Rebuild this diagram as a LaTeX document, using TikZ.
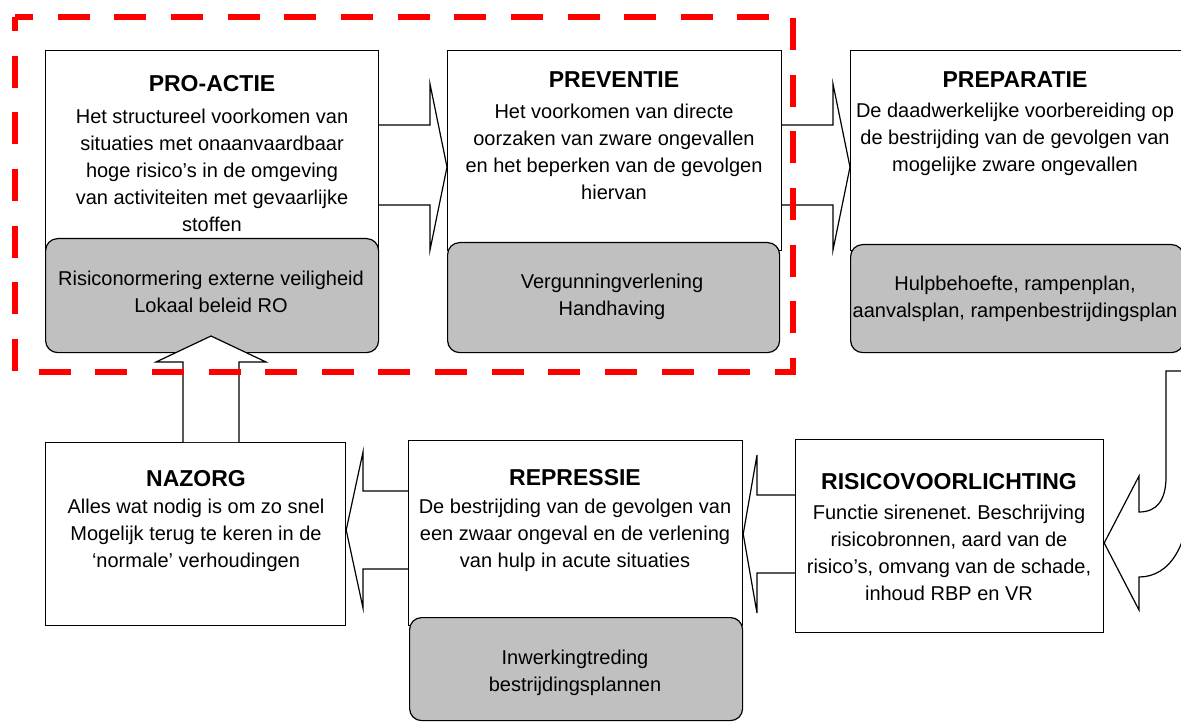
\documentclass[tikz,border=0pt]{standalone}
\usepackage{fontspec}
\setmainfont{Liberation Sans}
\usetikzlibrary{backgrounds}
\frenchspacing

\begin{document}
\begin{tikzpicture}[x=1pt,y=-1pt]

		\definecolor{kaderrood}{RGB}{255,0,0}
		\definecolor{vakgrijs}{RGB}{192,192,192}

		\tikzstyle{pijl} = [draw=black, fill=white, line width=1.2pt, line join=miter]
		\tikzset{fase/.style = {shape=rectangle, draw, fill=white, line width=1.2pt, inner sep=0pt, anchor=north west}}
		\tikzset{maatregel/.style = {shape=rectangle, draw, fill=vakgrijs, rounded corners=12pt, line width=1.2pt, inner sep=0pt, anchor=north west}}
		\tikzset{titel/.style = {font=\fontsize{23}{27}\selectfont\bfseries, inner sep=0pt}}
		\tikzset{tekst/.style = {font=\fontsize{20}{27}\selectfont, align=center, inner sep=0pt}}

		\useasboundingbox (0,0) rectangle (1181,722);
		\clip (0,0) rectangle (1181,722);

		% bovenste rij
		\node[fase, minimum width=333pt, minimum height=200pt] (proactie) at (45,50) {};
		\node[fase, minimum width=334pt, minimum height=200pt] (preventie) at (447,50) {};
		\node[fase, minimum width=333pt, minimum height=200pt] (preparatie) at (850,50) {};

		\node[maatregel, minimum width=333pt, minimum height=114pt] (proactieinfo) at (45,238) {};
		\node[maatregel, minimum width=332pt, minimum height=110pt] (preventieinfo) at (447,242) {};
		\node[maatregel, minimum width=333pt, minimum height=108pt] (preparatieinfo) at (850,244) {};

		% onderste rij
		\node[fase, minimum width=300pt, minimum height=183pt] (nazorg) at (45,442) {};
		\node[fase, minimum width=334pt, minimum height=185pt] (repressie) at (408,440) {};
		\node[fase, minimum width=308pt, minimum height=193pt] (risico) at (795,439) {};

		\node[maatregel, minimum width=333pt, minimum height=103pt] (repressieinfo) at (409,617) {};

		% teksten
		\node[titel] (proactietitel) at (212,84) {PRO-ACTIE};
		\node[tekst] (proactietekst) at (212,170) {Het structureel voorkomen van\\situaties met onaanvaardbaar\\hoge risico’s in de omgeving\\van activiteiten met gevaarlijke\\stoffen};
		\node[tekst] (proactieinfotekst) at (211,292) {Risiconormering externe veiligheid\\Lokaal beleid RO};

		\node[titel] (preventietitel) at (614,80) {PREVENTIE};
		\node[tekst] (preventietekst) at (614,152) {Het voorkomen van directe\\oorzaken van zware ongevallen\\en het beperken van de gevolgen\\hiervan};
		\node[tekst] (preventieinfotekst) at (612,297) {Vergunningverlening\\Handhaving};

		\node[titel] (preparatietitel) at (1015,80) {PREPARATIE};
		\node[tekst] (preparatietekst) at (1015,139) {De daadwerkelijke voorbereiding op\\de bestrijding van de gevolgen van\\mogelijke zware ongevallen};
		\node[tekst] (preparatieinfotekst) at (1015,299) {Hulpbehoefte, rampenplan,\\aanvalsplan, rampenbestrijdingsplan};

		\node[titel] (nazorgtitel) at (196,479) {NAZORG};
		\node[tekst] (nazorgtekst) at (196,535) {Alles wat nodig is om zo snel\\Mogelijk terug te keren in de\\‘normale’ verhoudingen};

		\node[titel] (repressietitel) at (575,478) {REPRESSIE};
		\node[tekst] (repressietekst) at (575,535) {De bestrijding van de gevolgen van\\een zwaar ongeval en de verlening\\van hulp in acute situaties};
		\node[tekst] (repressieinfotekst) at (575,673) {Inwerkingtreding\\bestrijdingsplannen};

		\node[titel] (risicotitel) at (949,482) {RISICOVOORLICHTING};
		\node[tekst] (risicotekst) at (949,553) {Functie sirenenet. Beschrijving\\risicobronnen, aard van de\\risico’s, omvang van de schade,\\inhoud RBP en VR};

		% pijlen tussen de fasen
		\begin{scope}[on background layer]
		\clip (0,0) rectangle (1181,722);
		\draw[pijl] (proactie.east |- 0,125) -- (430,125) -- (430,84) -- (preventie.west |- 0,167) -- (430,250) -- (430,205) -- (proactie.east |- 0,205);
		\draw[pijl] (preventie.east |- 0,125) -- (833,125) -- (833,84) -- (preparatie.west |- 0,167) -- (833,250) -- (833,205) -- (preventie.east |- 0,205);
		\draw[pijl] (preparatieinfo.south -| 1190,0) -- (1190,490) .. controls (1190,545) and (1170,577) .. (1139,577) -- (1139,610) -- (risico.east |- 0,543) -- (1139,476) -- (1139,512) .. controls (1157,512) and (1166,500) .. (1166,477) -- (1166,371) -- (1190,371);
		\draw[pijl] (risico.west |- 0,495) -- (757,495) -- (757,455) -- (repressie.east |- 0,534) -- (757,613) -- (757,573) -- (risico.west |- 0,573);
		\draw[pijl] (repressie.west |- 0,491) -- (363,491) -- (363,452) -- (nazorg.east |- 0,530) -- (363,608) -- (363,569) -- (repressie.west |- 0,569);
		\end{scope}

		\draw[pijl] (nazorg.north -| 183,0) -- (183,362) -- (156,362) -- (211,336) -- (266,362) -- (239,362) -- (nazorg.north -| 239,0);

		% kader pro-actie en preventie
		\draw[kaderrood, line width=6.5pt, dash pattern=on 32pt off 24.65pt, dash phase=18pt] (15,17) rectangle (793,372);
		\end{tikzpicture}
\end{document}
